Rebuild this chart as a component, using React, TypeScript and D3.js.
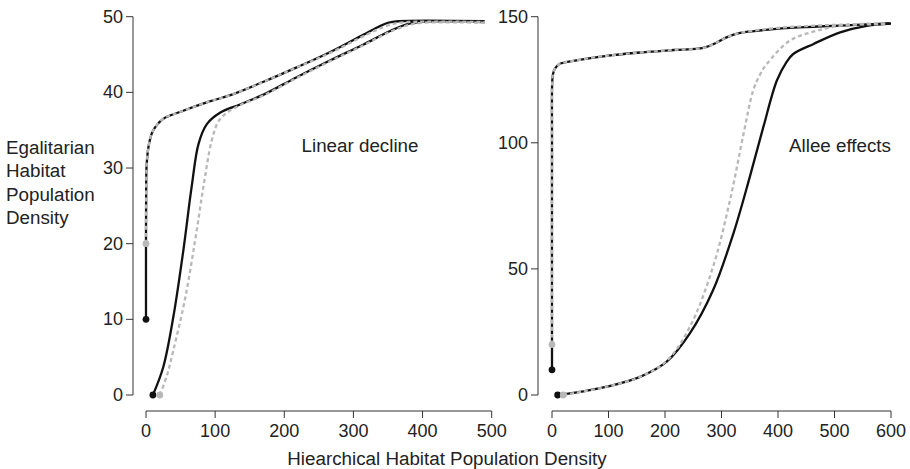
import * as d3 from 'd3';

// Linear decline panel (x: hierarchical density, y: egalitarian density)
const linUpperBlackX = [0, 0, 0.3, 1, 4, 10, 25, 49, 92, 121, 170, 218, 266, 314, 335, 350, 365, 490];
const linUpperBlackY = [10, 20, 28, 30.5, 33, 34.9, 36.5, 37.4, 38.8, 39.6, 41.4, 43.3, 45.3, 47.6, 48.6, 49.2, 49.4, 49.4];
const linUpperGrayX = [0, 0.3, 1, 4, 10, 25, 49, 92, 121, 170, 218, 266, 314, 340, 360, 380, 490];
const linUpperGrayY = [20, 28, 30.5, 33, 34.9, 36.5, 37.4, 38.8, 39.6, 41.4, 43.3, 45.2, 47.4, 48.5, 49.1, 49.3, 49.3];
const linLowerBlackX = [10, 25, 39.5, 54, 66, 76, 88, 107, 136, 170, 218, 266, 314, 353, 377, 395, 490];
const linLowerBlackY = [0, 3.7, 10.3, 19.1, 27.5, 33.2, 35.8, 37.3, 38.4, 39.7, 42, 44.2, 46.3, 48.1, 49.0, 49.3, 49.3];
const linLowerGrayX = [20, 30, 39.5, 56, 71, 83, 95, 105, 117, 136, 170, 218, 266, 314, 353, 380, 400, 490];
const linLowerGrayY = [0, 2.5, 5.9, 12.5, 20.4, 27.5, 33.6, 36.2, 37.3, 38.3, 39.6, 41.9, 44.1, 46.2, 48.0, 48.9, 49.2, 49.2];

// Allee effects panel
const alUpperBlackX = [0, 0, 0, 0.5, 2, 5, 14, 38, 97, 156, 215, 268, 292, 309, 333, 362, 392, 451, 510, 598];
const alUpperBlackY = [10, 20, 100, 124.7, 127.5, 129.3, 131.3, 132.5, 134.5, 135.8, 136.8, 137.6, 139.8, 141.8, 143.6, 144.4, 145.1, 145.9, 146.5, 147.3];
const alUpperGrayX = [0, 0, 0.5, 2, 5, 14, 38, 97, 156, 215, 268, 292, 309, 333, 362, 392, 451, 510, 590];
const alUpperGrayY = [20, 100, 124.7, 127.5, 129.3, 131.3, 132.5, 134.5, 135.8, 136.8, 137.6, 139.8, 141.8, 143.6, 144.6, 145.4, 146.3, 146.8, 147.0];
const alLowerBlackX = [10, 38, 97, 156, 203, 244, 285, 321, 350, 374, 398, 415, 427, 463, 510, 557, 600];
const alLowerBlackY = [0, 0.8, 3.3, 7.2, 13.2, 24.4, 41.5, 64, 86.4, 106.2, 124.7, 132, 135.2, 139.2, 143.8, 146.4, 147.3];
const alLowerGrayX = [20, 38, 97, 156, 203, 244, 285, 315, 339, 356, 368, 380, 421, 468, 522, 592];
const alLowerGrayY = [0, 0.7, 3.3, 7.2, 13.5, 27, 50.8, 77.2, 103.5, 120.7, 127, 131.2, 140.5, 144.4, 146.8, 147.3];

const linXTicks = [0, 100, 200, 300, 400, 500];
const linYTicks = [0, 10, 20, 30, 40, 50];
const alXTicks = [0, 100, 200, 300, 400, 500, 600];
const alYTicks = [0, 50, 100, 150];

const yLabelLines = ['Egalitarian', 'Habitat', 'Population', 'Density'];
const xLabel = 'Hiearchical Habitat Population Density';

const black = '#111111';
const gray = '#b8b8b8';
const axisColor = '#333333';
const font = '"Liberation Sans", Arial, Helvetica, sans-serif';
const tickFontSize = 18;
const labelFontSize = 18.8;

type Pt = [number, number];
const zip = (xs: number[], ys: number[]): Pt[] => xs.map((x, i) => [x, ys[i]]);

type Series = { pts: Pt[]; color: string; dash?: string };

type PanelProps = {
  xDomain: [number, number];
  xRange: [number, number];
  yDomain: [number, number];
  xTicks: number[];
  yTicks: number[];
  axisX: number;
  series: Series[];
  label: string;
  labelX: number;
};

const top = 16.7;
const bottom = 395;
const axisY = 411;

const Panel = ({ xDomain, xRange, yDomain, xTicks, yTicks, axisX, series, label, labelX }: PanelProps) => {
  const x = d3.scaleLinear().domain(xDomain).range(xRange);
  const y = d3.scaleLinear().domain(yDomain).range([bottom, top]);
  const line = d3
    .line<Pt>()
    .x((d) => x(d[0]))
    .y((d) => y(d[1]))
    .curve(d3.curveCatmullRom.alpha(0.5));

  return (
    <g>
      {/* y axis */}
      <line x1={axisX} x2={axisX} y1={y(yTicks[0])} y2={y(yTicks[yTicks.length - 1])} stroke={axisColor} />
      {yTicks.map((t) => (
        <g key={`y${t}`}>
          <line x1={axisX - 7} x2={axisX} y1={y(t)} y2={y(t)} stroke={axisColor} />
          <text x={axisX - 10} y={y(t)} textAnchor="end" dominantBaseline="central" fontSize={tickFontSize} fill="#222">
            {t}
          </text>
        </g>
      ))}
      {/* x axis */}
      <line x1={x(xTicks[0])} x2={x(xTicks[xTicks.length - 1])} y1={axisY} y2={axisY} stroke={axisColor} />
      {xTicks.map((t) => (
        <g key={`x${t}`}>
          <line x1={x(t)} x2={x(t)} y1={axisY} y2={axisY + 7} stroke={axisColor} />
          <text x={x(t)} y={axisY + 20} textAnchor="middle" dominantBaseline="central" fontSize={tickFontSize} fill="#222">
            {t}
          </text>
        </g>
      ))}
      {series.map((s, i) => (
        <path
          key={i}
          d={line(s.pts) || ''}
          fill="none"
          stroke={s.color}
          strokeWidth={2.3}
          strokeDasharray={s.dash}
          strokeLinejoin="round"
        />
      ))}
      {series.map((s, i) => (
        <circle key={`c${i}`} cx={x(s.pts[0][0])} cy={y(s.pts[0][1])} r={3.4} fill={s.color} />
      ))}
      <text x={labelX} y={145} textAnchor="middle" dominantBaseline="central" fontSize={labelFontSize} fill="#222">
        {label}
      </text>
    </g>
  );
};

export default function App() {
  const linSeries: Series[] = [
    { pts: zip(linUpperBlackX, linUpperBlackY), color: black },
    { pts: zip(linLowerBlackX, linLowerBlackY), color: black },
    { pts: zip(linUpperGrayX, linUpperGrayY), color: gray, dash: '4 3' },
    { pts: zip(linLowerGrayX, linLowerGrayY), color: gray, dash: '4 3' },
  ];
  const alSeries: Series[] = [
    { pts: zip(alUpperBlackX, alUpperBlackY), color: black },
    { pts: zip(alLowerBlackX, alLowerBlackY), color: black },
    { pts: zip(alUpperGrayX, alUpperGrayY), color: gray, dash: '4 3' },
    { pts: zip(alLowerGrayX, alLowerGrayY), color: gray, dash: '4 3' },
  ];

  return (
    <svg
      width={910}
      height={469}
      style={{ position: 'absolute', left: 0, top: 0, background: '#fff', fontFamily: font }}
    >
      <Panel
        xDomain={[0, 500]}
        xRange={[146, 491.7]}
        yDomain={[0, 50]}
        xTicks={linXTicks}
        yTicks={linYTicks}
        axisX={133}
        series={linSeries}
        label="Linear decline"
        labelX={360}
      />
      <Panel
        xDomain={[0, 600]}
        xRange={[552, 891]}
        yDomain={[0, 150]}
        xTicks={alXTicks}
        yTicks={alYTicks}
        axisX={538}
        series={alSeries}
        label="Allee effects"
        labelX={840}
      />
      {yLabelLines.map((l, i) => (
        <text key={l} x={6} y={147 + i * 23.5} dominantBaseline="central" fontSize={labelFontSize} fill="#222">
          {l}
        </text>
      ))}
      <text x={447} y={458} textAnchor="middle" dominantBaseline="central" fontSize={labelFontSize} fill="#222">
        {xLabel}
      </text>
    </svg>
  );
}
